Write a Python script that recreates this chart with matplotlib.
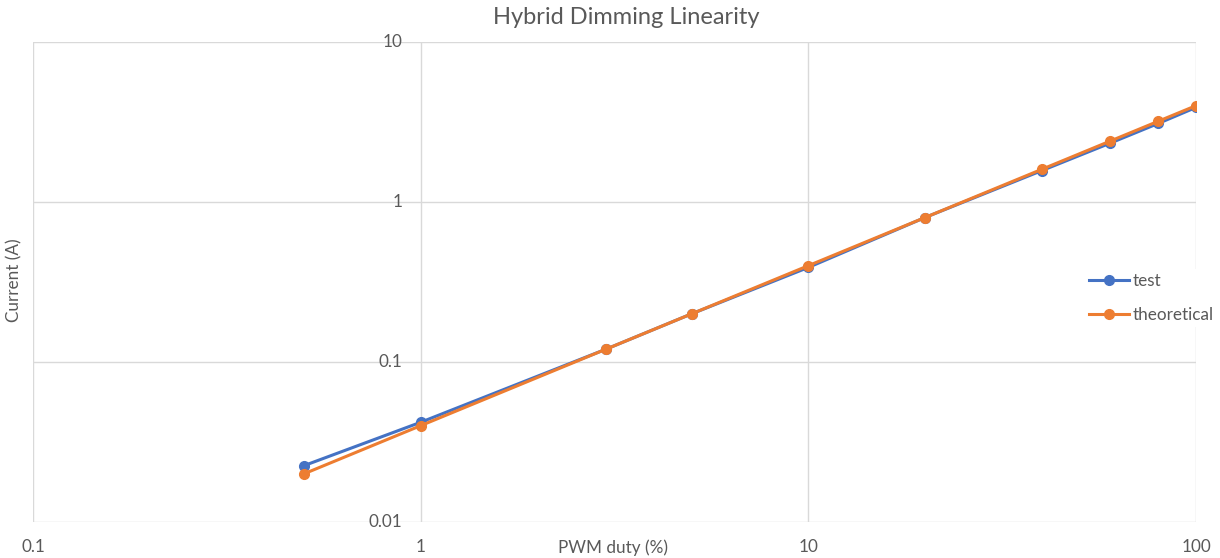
import matplotlib
matplotlib.use("Agg")
import matplotlib.pyplot as plt
from matplotlib.transforms import blended_transform_factory

plt.rcParams['font.family'] = ['Lato', 'DejaVu Sans']

# PWM duty (%) and measured / theoretical current (A)
duty = [0.5, 1, 3, 5, 10, 20, 40, 60, 80, 100]
test = [0.0225, 0.042, 0.12, 0.2, 0.39, 0.8, 1.57, 2.33, 3.1, 3.9]
theoretical = [0.02, 0.04, 0.12, 0.2, 0.4, 0.8, 1.6, 2.4, 3.2, 4.0]
y_ticks = [0.01, 0.1, 1, 10]
x_ticks = [0.1, 1, 10, 100]

TXT = '#595959'
GRID = '#d9d9d9'
FS = 12.3

fig = plt.figure(figsize=(12.2, 5.58), dpi=100)
ax = fig.add_axes([33/1220, 36/558, 1163/1220, 480/558])

ax.plot(duty, test, color='#4472C4', lw=2.2, marker='o', ms=7, label='test', zorder=3)
ax.plot(duty, theoretical, color='#ED7D31', lw=2.2, marker='o', ms=7,
        label='theoretical', zorder=4)

ax.set_xscale('log')
ax.set_yscale('log')
ax.set_xlim(0.1, 100)
ax.set_ylim(0.01, 10)

for s in ax.spines.values():
    s.set_visible(False)
ax.tick_params(which='both', length=0, labelleft=False, labelbottom=False)
ax.minorticks_off()

# gridlines (Excel style)
for xv in x_ticks:
    ax.axvline(xv, color=GRID, lw=1, zorder=1)
for yv in y_ticks:
    ax.axhline(yv, color=GRID, lw=1, zorder=1)

# y tick labels sit next to the axis crossing at x=1
for yv in y_ticks:
    ax.annotate(f'{yv:g}', xy=(1, yv), xytext=(-18, 0), textcoords='offset pixels',
                ha='right', va='center', color=TXT, fontsize=FS, zorder=2)

trans = blended_transform_factory(ax.transData, ax.transAxes)
for xv in x_ticks:
    ax.text(xv, -0.052, f'{xv:g}', transform=trans, ha='center', va='center',
            color=TXT, fontsize=FS)

fig.text(613/1220, 1 - 548/558, 'PWM duty (%)', ha='center', va='center',
         color=TXT, fontsize=FS)
fig.text(14/1220, 1 - 280/558, 'Current (A)', ha='center', va='center',
         rotation=90, color=TXT, fontsize=FS)
fig.text(626/1220, 1 - 18/558, 'Hybrid Dimming Linearity', ha='center', va='center',
         color=TXT, fontsize=17)

leg = ax.legend(loc='center left', bbox_to_anchor=(1086/1220, 1 - 298/558),
                bbox_transform=fig.transFigure, frameon=True, fontsize=FS,
                handlelength=2.3, handletextpad=0.25, labelspacing=1.1,
                borderpad=0.2, borderaxespad=0)
leg.get_frame().set_edgecolor('none')
leg.get_frame().set_facecolor('white')
leg.get_frame().set_alpha(1)
leg.set_zorder(5)
for t in leg.get_texts():
    t.set_color(TXT)

fig.savefig('out.png', dpi=100)
